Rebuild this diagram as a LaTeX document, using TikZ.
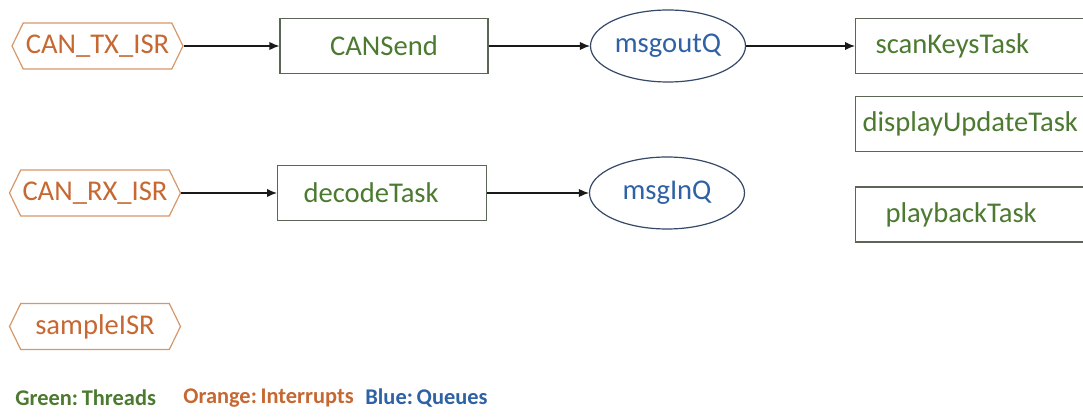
\documentclass[tikz,border=0pt]{standalone}
\usepackage{fontspec}
\setmainfont{Carlito}
\usepackage{tikz}
\definecolor{threadgreen}{RGB}{76,122,48}
\definecolor{isrorange}{RGB}{198,104,50}
\definecolor{isrline}{RGB}{214,152,104}
\definecolor{queueblue}{RGB}{46,98,165}
\definecolor{queueline}{RGB}{52,72,104}
\definecolor{taskline}{RGB}{92,102,86}
\usetikzlibrary{shapes.geometric, shapes.symbols, arrows.meta}

\begin{document}
\begin{tikzpicture}[x=0.5pt, y=-0.5pt,
		>={Latex[length=5pt,width=4.2pt]},   % Pfeilspitzen
		font=\fontsize{14.3}{17}\selectfont,
		task/.style={draw=taskline, line width=0.6pt, text=threadgreen, minimum height=27.5pt, inner sep=0pt},
		isr/.style={draw=isrline, line width=0.6pt, text=isrorange, shape=signal, signal to=west and east,
			signal pointer angle=128, minimum width=85.5pt, minimum height=23pt, inner sep=0pt},
		queue/.style={draw=queueline, line width=0.6pt, text=queueblue, ellipse, minimum width=77.5pt,
			minimum height=36pt, inner sep=0pt},
		flow/.style={->, line width=0.7pt, black!90},
		legend/.style={anchor=west, inner sep=0pt, font=\fontsize{11.2}{13}\selectfont\bfseries}]
	% Bildbereich
	\clip (0,0) rectangle (1083,417);
	\fill[white] (0,0) rectangle (1083,417);
	% Interrupts
	\node[isr] (txisr) at (97.5,46) {CAN\_TX\_ISR};
	\node[isr] (rxisr) at (95,193) {CAN\_RX\_ISR};
	\node[isr] (sampleisr) at (95,326.5) {sampleISR};
	% Threads
	\node[task, minimum width=104pt] (cansend) at (384,46) {CANSend};
	\node[task, anchor=west, align=left, text width=78.5pt, inner xsep=13pt] (decode) at (277,193) {decodeTask};
	\node[task, anchor=west, align=left, text width=110pt, inner xsep=10pt] (scankeys) at (855,46) {scanKeysTask};
	\node[task, anchor=west, align=left, text width=123pt, inner xsep=3.5pt] (display) at (855,124) {displayUpdateTask};
	\node[task, anchor=west, align=left, text width=100pt, inner xsep=15pt] (playback) at (855,214.5) {playbackTask};
	% Queues
	\node[queue] (msgout) at (668,46) {msgoutQ};
	\node[queue] (msgin) at (667,193) {msgInQ};
	% Verbindungen
	\draw[flow] (txisr.east) -- (cansend.west);
	\draw[flow] (cansend.east) -- (msgout.west);
	\draw[flow] (msgout.east) -- (scankeys.west);
	\draw[flow] (rxisr.east) -- (decode.west);
	\draw[flow] (decode.east) -- (msgin.west);
	% Legende
	\node[legend, text=threadgreen] (leggreen) at (15,398) {Green:\,Threads};
	\node[legend, text=isrorange] (legorange) at (183,398) {Orange:\,Interrupts};
	\node[legend, text=queueblue] (legblue) at (365,398) {Blue:\,Queues};
\end{tikzpicture}
\end{document}
